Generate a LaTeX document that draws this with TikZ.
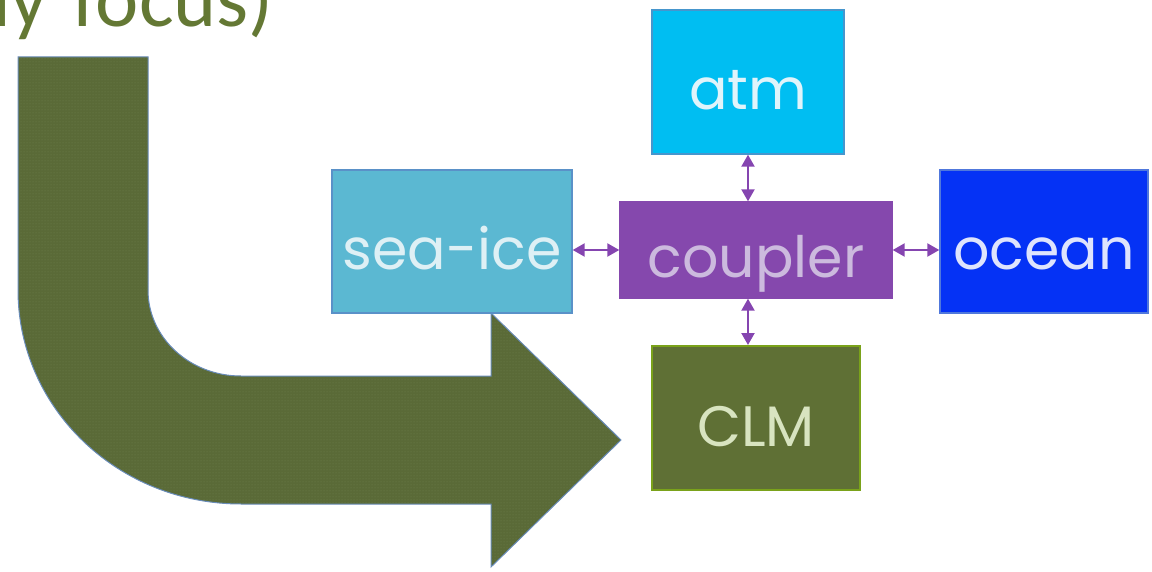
\documentclass[tikz,border=0pt]{standalone}
\usepackage{fontspec}
\setmainfont{Carlito}
\newfontfamily\boxfont{Poppins}
\usetikzlibrary{arrows.meta,patterns}
\definecolor{olive}{RGB}{90,106,55}
\definecolor{olivedot}{RGB}{112,130,80}
\definecolor{arrowedge}{RGB}{105,140,185}
\definecolor{titlegreen}{RGB}{100,120,52}
\definecolor{atmfill}{RGB}{0,190,242}
\definecolor{atmedge}{RGB}{70,150,205}
\definecolor{atmtext}{RGB}{224,244,251}
\definecolor{icefill}{RGB}{91,184,210}
\definecolor{iceedge}{RGB}{90,145,200}
\definecolor{icetext}{RGB}{222,240,245}
\definecolor{cplfill}{RGB}{133,72,173}
\definecolor{cpltext}{RGB}{204,186,222}
\definecolor{oceanfill}{RGB}{5,50,245}
\definecolor{oceanedge}{RGB}{80,120,220}
\definecolor{oceantext}{RGB}{222,228,253}
\definecolor{clmfill}{RGB}{95,112,53}
\definecolor{clmedge}{RGB}{122,162,26}
\definecolor{clmtext}{RGB}{216,228,192}
\definecolor{linkcol}{RGB}{133,69,176}
\tikzset{
  compbox/.style={rectangle, draw, line width=1.4pt, inner sep=0pt,
    text height=56pt, text depth=0pt,
    font=\boxfont\fontsize{57}{57}\selectfont},
  link/.style={draw=linkcol, line width=2.2pt,
    {Triangle[length=12pt,width=13pt]}-{Triangle[length=12pt,width=13pt]}}
}
\begin{document}
\begin{tikzpicture}[x=1pt,y=-1pt]
\useasboundingbox (0,0) rectangle (1152,572);
% title fragment
\node[anchor=base east, inner sep=0pt, text=titlegreen,
  font=\fontsize{82}{82}\selectfont] (title) at (274,27) {ly\hspace{6pt} focus)};
% bent arrow
\path[fill=olive, draw=arrowedge, line width=1pt]
  (18,57) -- (148,57) -- (148,290)
  arc[start angle=180, end angle=270, x radius=93pt, y radius=86pt]
  -- (491,376) -- (491,313) -- (621,440) -- (491,567) -- (491,504) -- (241,504)
  arc[start angle=270, end angle=180, x radius=223pt, y radius=214pt]
  -- cycle;
\path[pattern=dots, pattern color=olivedot]
  (19,58) -- (147,58) -- (147,290)
  arc[start angle=180, end angle=270, x radius=94pt, y radius=87pt]
  -- (492,377) -- (492,316) -- (619,440) -- (492,564) -- (492,503) -- (241,503)
  arc[start angle=270, end angle=180, x radius=222pt, y radius=213pt]
  -- cycle;
% boxes
\node[compbox, fill=atmfill, draw=atmedge, text=atmtext,
  minimum width=192pt, minimum height=144pt] (atm) at (748,82) {atm};
\node[compbox, fill=icefill, draw=iceedge, text=icetext,
  minimum width=240pt, minimum height=143pt] (seaice) at (452,241.5) {sea-ice};
\node[compbox, fill=cplfill, draw=cplfill, text=cpltext,
  minimum width=272pt, minimum height=96pt] (coupler) at (756,250) {coupler};
\node[compbox, fill=oceanfill, draw=oceanedge, text=oceantext,
  minimum width=208pt, minimum height=143pt] (ocean) at (1044,241.5) {ocean};
\node[compbox, fill=clmfill, draw=clmedge, line width=2pt, text=clmtext,
  minimum width=208pt, minimum height=144pt] (clm) at (756,418) {CLM};
% links
\draw[link] (atm.south) -- (atm.south |- coupler.north);
\draw[link] (seaice.east |- coupler.west) -- (coupler.west);
\draw[link] (coupler.east) -- (ocean.west |- coupler.east);
\draw[link] (coupler.south -| atm.south) -- (clm.north -| atm.south);
\end{tikzpicture}
\end{document}
